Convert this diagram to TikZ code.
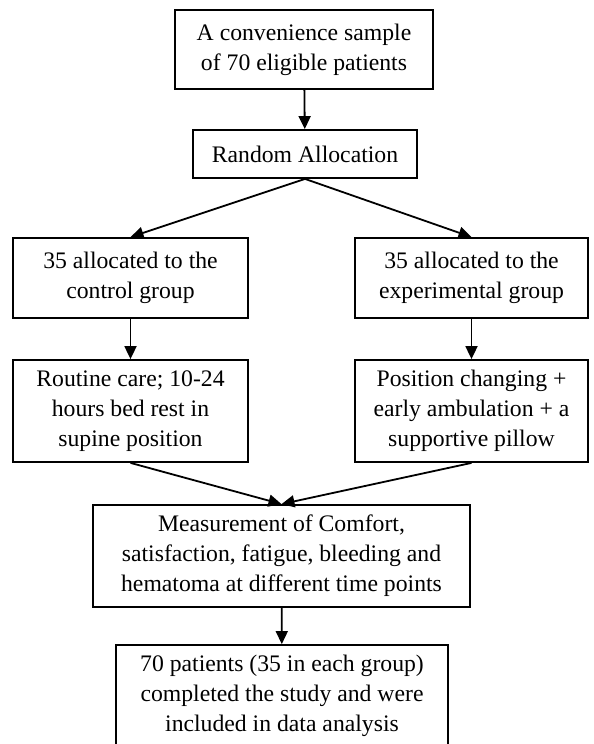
\documentclass[tikz,border=0pt]{standalone}
\usepackage{fontspec}
\setmainfont{Liberation Serif}
\usetikzlibrary{arrows.meta}
\begin{document}
\begin{tikzpicture}[x=0.5pt, y=-0.5pt, ->, >={Triangle[length=6.5pt, width=6pt]}, line width=0.9pt,
    box/.style={draw, -, align=center, inner sep=0pt, font=\fontsize{11.85pt}{15pt}\selectfont}]
         \useasboundingbox (0,0) rectangle (594,744);
         %nodes
         \node[box, minimum width=129pt, minimum height=39.5pt] at (304,49.5) (sample) {A convenience sample\\of 70 eligible patients};
         \node[box, minimum width=112pt, minimum height=24pt] at (305,154) (alloc) {Random Allocation};
         \node[box, minimum width=117.5pt, minimum height=40pt] at (130.5,278) (control) {35 allocated to the\\control group};
         \node[box, minimum width=116.5pt, minimum height=40pt] at (471.5,278) (exper) {35 allocated to the\\experimental group};
         \node[box, minimum width=117.5pt, minimum height=51pt] at (130.5,411) (routine) {Routine care; 10-24\\hours bed rest in\\supine position};
         \node[box, minimum width=116.5pt, minimum height=51pt] at (471.5,411) (position) {Position changing +\\early ambulation + a\\supportive pillow};
         \node[box, minimum width=188.5pt, minimum height=51pt] at (281.5,556) (measure) {Measurement of Comfort,\\satisfaction, fatigue, bleeding and\\hematoma at different time points};
         \node[box, minimum width=166pt, minimum height=51pt] at (282,696) (final) {70 patients (35 in each group)\\completed the study and were\\included in data analysis};
         \path
             (sample) edge (alloc)
             (alloc.south) edge (control.north)
             (alloc.south) edge (exper.north)
             (control) edge (routine)
             (exper) edge (position)
             (routine.south) edge (measure.north)
             (position.south) edge (measure.north)
             (measure) edge (final);
    \end{tikzpicture}
\end{document}
